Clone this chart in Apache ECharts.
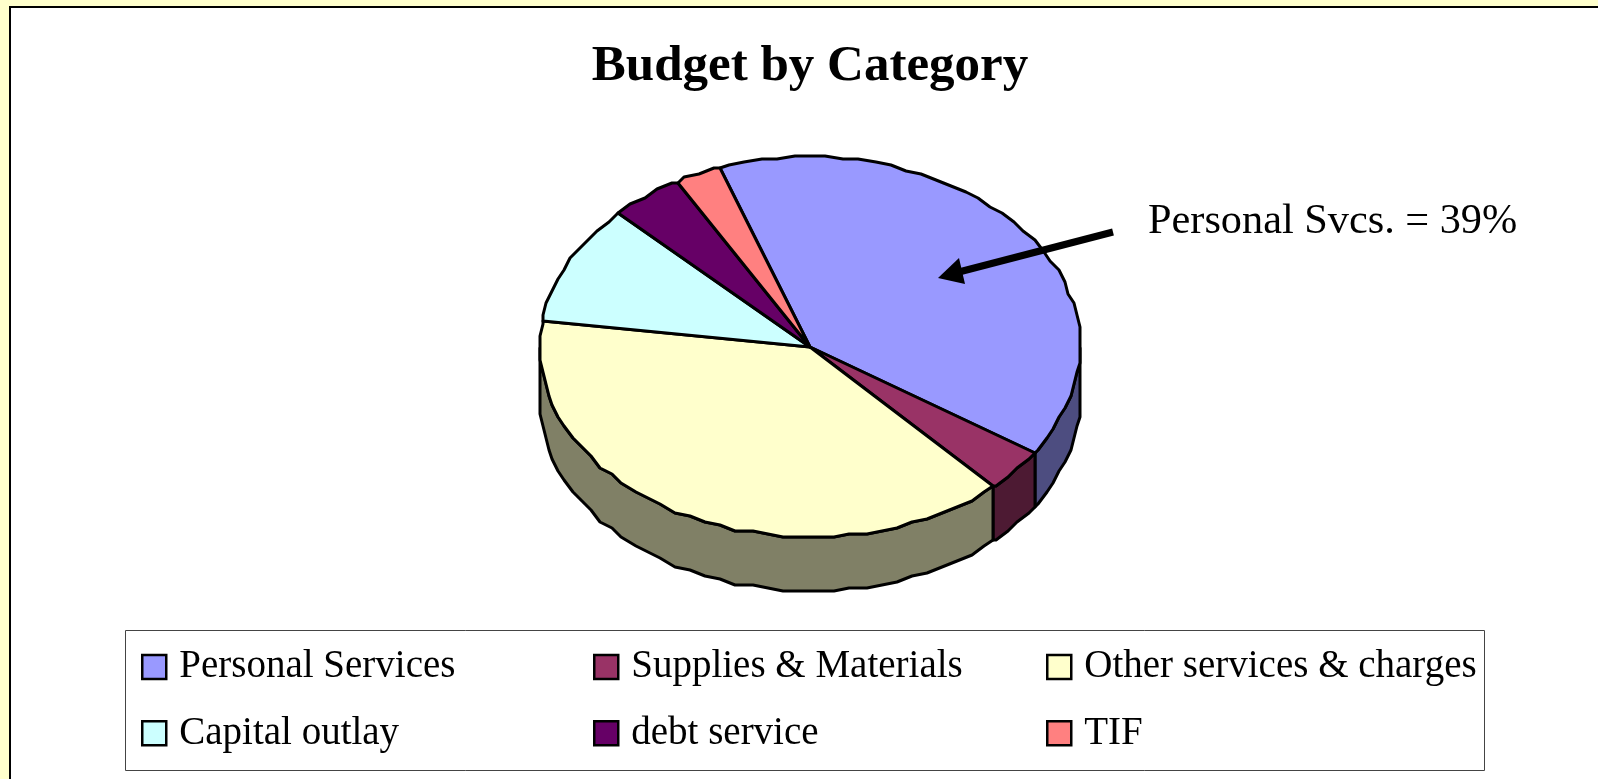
<!DOCTYPE html>
<html>
<head>
<meta charset="utf-8">
<title>Budget by Category</title>
<style>
  html, body { margin: 0; padding: 0; background: #FFFFCC; }
  #chart { width: 1598px; height: 779px; }
</style>
<script src="https://cdn.jsdelivr.net/npm/echarts@6/dist/echarts.min.js"></script>
</head>
<body>
<div id="chart"></div>
<script>
const categories = ["Personal Services", "Supplies & Materials", "Other services & charges", "Capital outlay", "debt service", "TIF"];
const shares = [39.7, 3.8, 39.2, 10.1, 4.4, 2.8];
const topColors = ["#9999FF", "#993366", "#FFFFCC", "#CCFFFF", "#660066", "#FF8080"];
const wallColors = ["#4D4D80", "#4D1A33", "#808066", "#668080", "#330033", "#804040"];
const calloutText = "Personal Svcs. = 39%";

const fontFamily = '"Liberation Serif", "Times New Roman", serif';

// pie geometry, angles run clockwise from 12 o'clock
const cx = 810, cy = 347, rx = 270, ry = 190, depth = 54;
const firstAngle = -19.5;
const arcStep = 3.5;
const snap = 3; // the original edge is stair stepped

const total = shares.reduce((a, b) => a + b, 0);

function sliceStart (index) {
  let sum = 0;
  for (let i = 0; i < index; i++) sum += shares[i];
  return firstAngle + (sum / total) * 360;
}

function rimPoint (deg, drop) {
  const a = (deg * Math.PI) / 180;
  const x = cx + rx * Math.sin(a);
  const y = cy - ry * Math.cos(a);
  return [Math.round(x / snap) * snap, Math.round(y / snap) * snap + drop];
}

function arc (from, to, drop) {
  const pts = [];
  const first = Math.ceil(from / arcStep) * arcStep;
  pts.push(rimPoint(from, drop));
  for (let d = first; d < to; d += arcStep) {
    if (d > from) pts.push(rimPoint(d, drop));
  }
  pts.push(rimPoint(to, drop));
  return pts;
}

const edgeStyle = { stroke: "#000", lineWidth: 3, lineJoin: "round" };

function renderSlice (params, api) {
  const i = params.seriesIndex;
  const start = sliceStart(i);
  const end = start + (api.value(0) / total) * 360;
  const children = [];

  // only the part of the rim between 3 and 9 o'clock shows a wall
  const wallFrom = Math.max(start, 90);
  const wallTo = Math.min(end, 270);
  if (wallTo > wallFrom) {
    const upper = arc(wallFrom, wallTo, 0);
    const lower = arc(wallFrom, wallTo, depth).reverse();
    children.push({
      type: "polygon",
      z2: 1,
      shape: { points: upper.concat(lower) },
      style: Object.assign({ fill: wallColors[i] }, edgeStyle),
    });
  }

  children.push({
    type: "polygon",
    z2: 10,
    shape: { points: [[cx, cy]].concat(arc(start, end, 0)) },
    style: Object.assign({ fill: topColors[i] }, edgeStyle),
  });
  return { type: "group", children };
}

const series = categories.map((name, i) => ({
  type: "custom",
  name,
  coordinateSystem: "none",
  silent: true,
  animation: false,
  clip: false,
  itemStyle: { color: topColors[i] },
  data: [[shares[i]]],
  renderItem: renderSlice,
}));

// three columns, two rows, in the order of the categories
const legendCols = [141, 593, 1046];
const legendRows = [647.5, 713.8];
const legend = categories.map((name, i) => ({
  data: [name],
  left: legendCols[i % 3],
  top: legendRows[Math.floor(i / 3)],
  padding: 0,
  itemWidth: 24,
  itemHeight: 24,
  icon: "rect",
  selectedMode: false,
  itemStyle: { borderColor: "#000", borderWidth: 2.5 },
  textStyle: {
    fontFamily,
    fontSize: 39,
    color: "#000",
    padding: [0, 0, 0, 8],
  },
}));

const chart = echarts.init(document.getElementById("chart"));
chart.setOption({
  backgroundColor: "#FFFFCC",
  animation: false,
  title: {
    text: "Budget by Category",
    left: 805,
    top: 36,
    textAlign: "center",
    textStyle: { fontFamily, fontSize: 51, fontWeight: "bold", color: "#000" },
  },
  legend,
  graphic: [
    {
      type: "rect",
      z: -1,
      shape: { x: 10, y: 7, width: 1620, height: 800 },
      style: { fill: "#fff", stroke: "#000", lineWidth: 2 },
    },
    {
      type: "rect",
      z: -1,
      shape: { x: 125.5, y: 630.5, width: 1359, height: 140 },
      style: { fill: "#fff", stroke: "#444", lineWidth: 1 },
    },
    {
      type: "line",
      z: 20,
      shape: { x1: 1113, y1: 232, x2: 955, y2: 273 },
      style: { stroke: "#000", lineWidth: 7 },
    },
    {
      type: "polygon",
      z: 20,
      shape: { points: [[938, 278], [959, 258], [965, 284]] },
      style: { fill: "#000" },
    },
    {
      type: "text",
      z: 20,
      x: 1148,
      y: 222,
      style: {
        text: calloutText,
        font: '42.3px "Liberation Serif"',
        fill: "#000",
        verticalAlign: "middle",
      },
    },
  ],
  series,
});
</script>
</body>
</html>
